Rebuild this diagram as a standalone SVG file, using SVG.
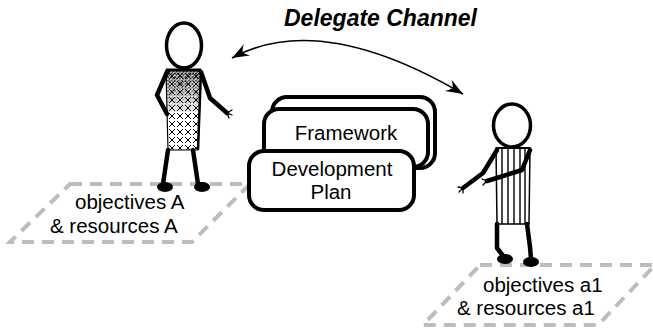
<svg xmlns="http://www.w3.org/2000/svg" width="653" height="329" viewBox="0 0 653 329">
  <style>
    .lbl { font-family: "Liberation Sans", Arial, sans-serif; font-size: 20.5px; fill: #000; }
    .title { font-family: "Liberation Sans", Arial, sans-serif; font-size: 23px; font-weight: bold; font-style: italic; fill: #000; }
    .zone { fill: none; stroke: #bdbdbd; stroke-width: 4; stroke-dasharray: 12 8; }
    .card { fill: #fff; stroke: #000; stroke-width: 4; }
    .limb { fill: none; stroke: #000; stroke-width: 4.5; stroke-linecap: round; stroke-linejoin: round; }
    .finger { fill: none; stroke: #000; stroke-width: 1.3; stroke-linecap: round; }
    .head { fill: #fff; stroke: #000; stroke-width: 3.5; }
    .foot { fill: #000; }
    .link { fill: none; stroke: #000; stroke-width: 1.6; }
  </style>
  <defs>
    <marker id="barb" viewBox="0 0 17 13" refX="17" refY="6.5" markerWidth="17" markerHeight="13" markerUnits="userSpaceOnUse" orient="auto-start-reverse">
      <path d="M17,6.5 L0,0 Q4,4 5,6.5 Q4,9 0,13 Z" fill="#000"/>
    </marker>
    <pattern id="xhatch" patternUnits="userSpaceOnUse" width="8" height="8">
      <path d="M1,1 L7,7 M7,1 L1,7" stroke="#000" stroke-width="1"/>
    </pattern>
    <pattern id="xhatch-dense" patternUnits="userSpaceOnUse" width="3.5" height="3.5">
      <path d="M0,0 L3.5,3.5 M3.5,0 L0,3.5" stroke="#000" stroke-width="1"/>
    </pattern>
    <linearGradient id="fade" x1="0" y1="0" x2="0" y2="1">
      <stop offset="0" stop-color="#fff" stop-opacity="1"/>
      <stop offset="1" stop-color="#fff" stop-opacity="0"/>
    </linearGradient>
    <mask id="top-fade" maskUnits="userSpaceOnUse" x="160" y="68" width="50" height="50">
      <rect x="160" y="68" width="50" height="50" fill="url(#fade)"/>
    </mask>
  </defs>

  <!-- ground zones -->
  <g id="zone-left">
    <path class="zone" d="M70,184 L250,184 L192,242 L10,242 Z"/>
    <text class="lbl" x="75" y="209">objectives A</text>
    <text class="lbl" x="50" y="233">&amp; resources A</text>
  </g>
  <g id="zone-right">
    <path class="zone" d="M480,265 L655,265 L598,325 L423,325 Z"/>
    <text class="lbl" x="483" y="292">objectives a1</text>
    <text class="lbl" x="457" y="315">&amp; resources a1</text>
  </g>

  <!-- stacked plan cards -->
  <g id="plan-stack">
    <rect class="card" x="272" y="97" width="163" height="71" rx="15"/>
    <rect class="card" x="264" y="109" width="164" height="58" rx="15"/>
    <text class="lbl" x="346" y="140" text-anchor="middle">Framework</text>
    <rect class="card" x="249" y="151" width="165" height="59" rx="15"/>
    <text class="lbl" x="332" y="176" text-anchor="middle">Development</text>
    <text class="lbl" x="331" y="199" text-anchor="middle">Plan</text>
  </g>

  <!-- left delegate -->
  <g id="figure-left">
    <polygon points="166,70 201,70 198,150 168,150" fill="url(#xhatch)" stroke="#000" stroke-width="1.2"/>
    <rect x="166" y="70" width="35" height="42" fill="url(#xhatch-dense)" mask="url(#top-fade)"/>
    <line x1="166" y1="70" x2="201" y2="70" stroke="#000" stroke-width="3"/>
    <line x1="201" y1="70" x2="198" y2="150" stroke="#000" stroke-width="2.5"/>
    <ellipse class="head" cx="184" cy="45.5" rx="17.5" ry="22.5"/>
    <polyline class="limb" points="167,72 157,95 167,114"/>
    <polyline class="limb" points="201,72 210,98 227,113"/>
    <path class="finger" d="M227,113 L232,110 M227,113 L232,115 M227,113 L229,118"/>
    <polyline class="limb" points="168,150 163,184"/>
    <polyline class="limb" points="193,150 198,184"/>
    <ellipse class="foot" cx="165" cy="187" rx="8" ry="5"/>
    <ellipse class="foot" cx="202" cy="187" rx="8" ry="5"/>
  </g>

  <!-- right delegate -->
  <g id="figure-right">
    <polygon points="496,148 530,148 529,224 497,224" fill="#fff" stroke="#000" stroke-width="1.5"/>
    <path d="M502,148 V224 M508,148 V224 M514,148 V224 M520,148 V224 M525,148 V224" stroke="#000" stroke-width="1.4"/>
    <line x1="496" y1="148" x2="530" y2="148" stroke="#000" stroke-width="2"/>
    <ellipse class="head" cx="512" cy="125.5" rx="18.5" ry="21.5"/>
    <polyline class="limb" points="497,150 483,173 463,188"/>
    <path class="finger" d="M463,188 L458,187 M463,188 L459,192 M463,188 L463,193"/>
    <polyline class="limb" points="530,150 522,170 487,181"/>
    <path class="finger" d="M487,181 L482,179 M487,181 L483,185"/>
    <polyline class="limb" points="497,224 497,248 504,257"/>
    <polyline class="limb" points="527,224 530,247 531,259"/>
    <ellipse class="foot" cx="505" cy="259" rx="8" ry="5"/>
    <ellipse class="foot" cx="531" cy="262" rx="8" ry="5"/>
  </g>

  <!-- channel between delegates -->
  <g id="connectors">
    <path class="link" d="M232,58 Q320,10 463,94" marker-start="url(#barb)" marker-end="url(#barb)"/>
  </g>
  <g id="title">
    <text class="title" x="284" y="26">Delegate Channel</text>
  </g>
</svg>
